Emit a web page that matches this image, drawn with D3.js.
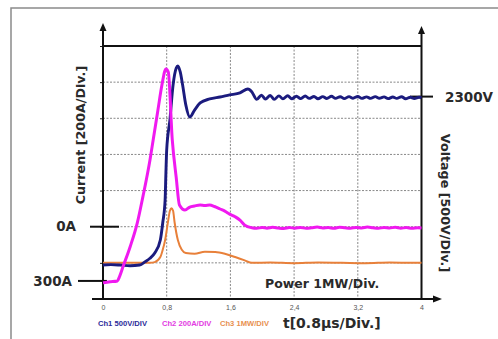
<!DOCTYPE html>
<html><head><meta charset="utf-8">
<script src="https://cdn.jsdelivr.net/npm/d3@7"></script>
<style>body{margin:0;background:#fff}svg{display:block}</style>
</head><body><svg id="c" width="498" height="339"></svg>
<script>
// ---- data ----
const timeTicks = [0, 0.8, 1.6, 2.4, 3.2, 4];
const currentGrid = [-200, 0, 200, 400, 600, 800];

const currentT = [0,0.09,0.18,0.21,0.25,0.34,0.43,0.50,0.59,0.63,0.69,0.74,0.79,0.82,0.87,0.92,0.96,1.03,1.09,1.15,1.22,1.28,1.34,1.40,1.47,1.53,1.59,1.66,1.72,1.78,1.87,1.93,2.00,2.06,2.13,2.20,2.27,2.34,2.41,2.48,2.55,2.62,2.69,2.76,2.83,2.90,2.97,3.04,3.11,3.18,3.25,3.32,3.39,3.46,3.53,3.60,3.67,3.74,3.81,3.88,3.95,4.00];
const currentA = [-310,-305,-300,-273,-223,-112,20,164,369,480,646,784,873,856,480,270,120,92,109,115,120,118,120,112,98,86,70,55,37,9,-6,-9,-4,-8,-3,-7,-10,-5,-8,-4,-9,-6,-2,-7,-5,-9,-3,-6,-8,-4,-7,-2,-6,-9,-4,-7,-3,-8,-5,-9,-6,-7];

const voltageT = [0,0.10,0.21,0.34,0.46,0.53,0.59,0.65,0.72,0.75,0.78,0.79,0.80,0.84,0.88,0.92,0.94,0.97,1.00,1.04,1.09,1.15,1.22,1.34,1.47,1.59,1.72,1.82,1.87,1.93,1.99,2.04,2.10,2.15,2.21,2.26,2.32,2.37,2.43,2.48,2.54,2.59,2.65,2.70,2.76,2.81,2.87,2.92,2.98,3.03,3.09,3.14,3.20,3.25,3.31,3.36,3.42,3.47,3.53,3.58,3.64,3.69,3.75,3.80,3.86,3.91,3.97,4.00];
const voltageV = [-30,-25,-30,-40,-30,17,64,137,317,552,870,1244,1562,1976,2460,2696,2724,2641,2460,2185,2017,2114,2212,2268,2295,2323,2351,2406,2364,2262,2320,2265,2315,2262,2310,2268,2312,2270,2305,2272,2308,2275,2302,2270,2300,2274,2304,2276,2298,2272,2300,2278,2302,2275,2296,2276,2300,2278,2296,2272,2294,2276,2298,2270,2292,2274,2290,2282];

const powerT = [0,0.46,0.59,0.65,0.72,0.75,0.78,0.82,0.84,0.86,0.88,0.90,0.94,0.99,1.04,1.15,1.28,1.41,1.53,1.66,1.78,1.87,2.10,2.40,2.70,3.00,3.30,3.60,3.90,4.00];
const powerMW = [0,0,0,0.02,0.16,0.36,0.63,1.19,1.44,1.51,1.44,1.11,0.63,0.36,0.27,0.25,0.31,0.30,0.25,0.16,0.07,0.0,0.01,-0.01,0.01,0,-0.01,0.01,0,0];

// ---- layout ----
const svg = d3.select("#c");
const L = 103, R = 421.5, T = 46, B = 299;
const x = d3.scaleLinear().domain([0, 4]).range([L, R]);
const yCur = d3.scaleLinear().domain([-400, 1000]).range([B, T]);
const yVol = d3.scaleLinear().domain([-500, 3000]).range([B, T]);
const yPow = d3.scaleLinear().domain([-1, 6]).range([B, T]);

// outer frame
svg.append("rect").attr("x", 11).attr("y", 8).attr("width", 520).attr("height", 360)
  .attr("fill", "none").attr("stroke", "#8a8a8a").attr("stroke-width", 1.5);

// grid
const grid = svg.append("g").attr("stroke", "#888").attr("stroke-width", 1).attr("stroke-dasharray", "2,1.5");
grid.selectAll("line.h").data(currentGrid).join("line")
  .attr("x1", L).attr("x2", R).attr("y1", d => yCur(d)).attr("y2", d => yCur(d));
grid.selectAll("line.v").data(timeTicks.slice(1, -1)).join("line")
  .attr("x1", d => x(d)).attr("x2", d => x(d)).attr("y1", T).attr("y2", B);

// axes
const bottomAxis = d3.axisBottom(x).tickValues(timeTicks).tickSize(0).tickPadding(6)
  .tickFormat(d => String(d).replace(".", ","));
const gb = svg.append("g").attr("transform", `translate(0,${B})`).call(bottomAxis);
gb.select(".domain").remove();
gb.selectAll("text").attr("font-family", "Arial, 'Liberation Sans', sans-serif").attr("font-size", 7).attr("fill", "#555");

const leftAxis = d3.axisLeft(yCur).tickValues(currentGrid.concat([1000])).tickSize(3).tickFormat("");
const gl = svg.append("g").attr("transform", `translate(${L},0)`).call(leftAxis);
gl.select(".domain").remove();
gl.selectAll("line").attr("stroke", "#222").attr("stroke-width", 1);

const ax = svg.append("g").attr("stroke", "#111").attr("stroke-width", 2);
ax.append("line").attr("x1", L).attr("x2", R).attr("y1", T).attr("y2", T);
ax.append("line").attr("x1", L).attr("x2", L).attr("y1", B).attr("y2", 30);
ax.append("line").attr("x1", R).attr("x2", R).attr("y1", B).attr("y2", 33);
ax.append("line").attr("x1", 92).attr("x2", 434).attr("y1", B).attr("y2", B);
// arrow heads
svg.append("path").attr("d", `M${L - 3.5},31 L${L},23 L${L + 3.5},31 Z`).attr("fill", "#111");
svg.append("path").attr("d", `M${R - 3.5},34 L${R},26 L${R + 3.5},34 Z`).attr("fill", "#111");
svg.append("path").attr("d", `M433,${B - 3.5} L442,${B} L433,${B + 3.5} Z`).attr("fill", "#111");

// marker lines
ax.append("line").attr("x1", 90).attr("x2", 119).attr("y1", yCur(0)).attr("y2", yCur(0));
ax.append("line").attr("x1", 78).attr("x2", 107).attr("y1", yCur(-300)).attr("y2", yCur(-300));
ax.append("line").attr("x1", 410).attr("x2", 433).attr("y1", yVol(2300)).attr("y2", yVol(2300));

// series
const mk = (xs, ys, yS) => d3.line().curve(d3.curveMonotoneX)
  .x((d, i) => x(xs[i])).y((d, i) => yS(ys[i]))(ys);
svg.append("path").attr("d", mk(powerT, powerMW, yPow)).attr("fill", "none")
  .attr("stroke", "#e8803a").attr("stroke-width", 2).attr("stroke-linejoin", "round");
svg.append("path").attr("d", mk(voltageT, voltageV, yVol)).attr("fill", "none")
  .attr("stroke", "#1b1b7e").attr("stroke-width", 2.9).attr("stroke-linejoin", "round");
svg.append("path").attr("d", mk(currentT, currentA, yCur)).attr("fill", "none")
  .attr("stroke", "#f019f0").attr("stroke-width", 3).attr("stroke-linejoin", "round");

// texts
const F = "'DejaVu Sans', Verdana, sans-serif";
const txt = (s, tx, ty, size, opts = {}) => svg.append("text").text(s)
  .attr("x", tx).attr("y", ty).attr("font-family", opts.family || F).attr("font-size", size)
  .attr("font-weight", opts.weight || "bold").attr("fill", opts.fill || "#2a2a2a")
  .attr("text-anchor", opts.anchor || "start").attr("dominant-baseline", "central")
  .attr("transform", opts.rot ? `rotate(${opts.rot},${tx},${ty})` : null);

txt("Current [200A/Div.]", 80, 135, 12.7, { anchor: "middle", rot: -90 });
txt("Voltage [500V/Div.]", 445, 203, 12.7, { anchor: "middle", rot: 90 });
txt("0A", 76, yCur(0) - 1, 13.5, { anchor: "end" });
txt("300A", 72, yCur(-300), 13.5, { anchor: "end" });
txt("2300V", 445, yVol(2300), 13.5);
txt("Power 1MW/Div.", 265, 283, 12.5);
txt("t[0.8μs/Div.]", 283, 323, 14);
const LF = "Arial, 'Liberation Sans', sans-serif";
txt("Ch1 500V/DIV", 98, 323, 7.6, { family: LF, fill: "#2b2b9a" });
txt("Ch2 200A/DIV", 162, 323, 7.6, { family: LF, fill: "#e23be2" });
txt("Ch3 1MW/DIV", 220, 323, 7.6, { family: LF, fill: "#e89050" });
</script></body></html>
